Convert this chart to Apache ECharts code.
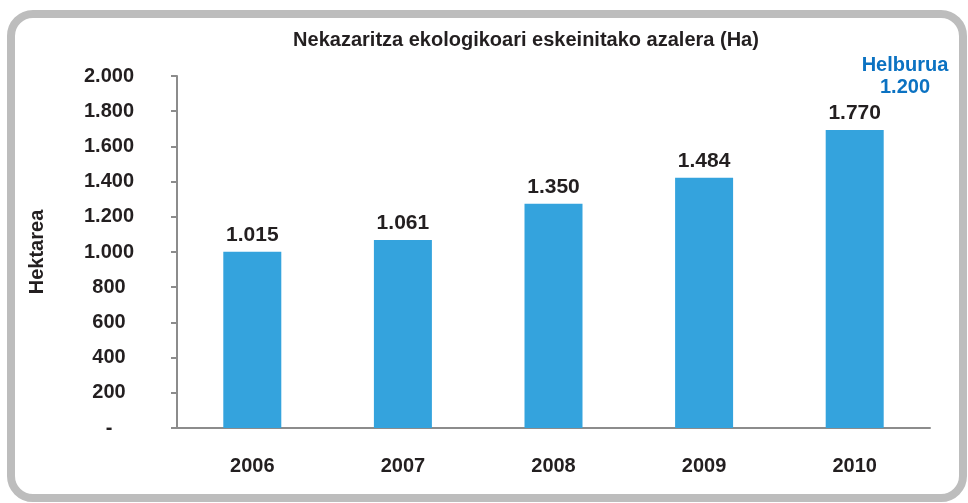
<!DOCTYPE html>
<html style="height: 100%">
<head>
<meta charset="utf-8">
<style>
    html, body {
        height: 100%;
        margin: 0;
        overflow: hidden;
        background: #fff;
    }
    #container {
        width: 968px;
        height: 503px;
    }
</style>
<title>Nekazaritza ekologikoari eskeinitako azalera</title>
</head>
<body>
<div id="container"></div>
<script src="https://cdn.jsdelivr.net/npm/echarts@6/dist/echarts.min.js"></script>
<script type="text/javascript">
// urteak
var years = ['2006', '2007', '2008', '2009', '2010'];
// barren altuera (irudian neurtua)
var barValues = [1002, 1068, 1274, 1422, 1693];
// barren gaineko etiketak
var barLabels = ['1.015', '1.061', '1.350', '1.484', '1.770'];
var targetText = ['Helburua', '1.200'];

var textColor = '#231f20';
var font = '"Liberation Sans", Arial, sans-serif';

var myChart = echarts.init(document.getElementById('container'));

var option = {
    animation: false,
    textStyle: { fontFamily: font },
    title: [{
        text: 'Nekazaritza ekologikoari eskeinitako azalera (Ha)',
        left: 521,
        top: 25,
        textAlign: 'center',
        textStyle: { fontFamily: font, fontSize: 20, fontWeight: 'bold', color: textColor }
    }, {
        text: targetText.join('\n'),
        left: 900,
        top: 49,
        textAlign: 'center',
        textStyle: { fontFamily: font, fontSize: 20, fontWeight: 'bold', color: '#0b72c2', lineHeight: 22 }
    }],
    graphic: [{
        type: 'rect',
        shape: { x: 11, y: 14, width: 952, height: 484, r: 22 },
        style: { fill: 'none', stroke: '#bdbdbd', lineWidth: 8 },
        z: -1
    }],
    grid: { left: 177, right: 38, top: 76, bottom: 75 },
    xAxis: {
        type: 'category',
        data: years,
        axisLine: { lineStyle: { color: '#8c8c8c', width: 2 } },
        axisTick: { length: 8, lineStyle: { color: '#8c8c8c', width: 2 } },
        axisLabel: { margin: 28, fontFamily: font, fontSize: 20, fontWeight: 'bold', color: textColor }
    },
    yAxis: {
        type: 'value',
        name: 'Hektarea',
        nameLocation: 'middle',
        nameGap: 130,
        nameTextStyle: { fontFamily: font, fontSize: 20, fontWeight: 'bold', color: textColor },
        min: 0,
        max: 2000,
        interval: 200,
        splitLine: { show: false },
        axisLine: { show: true, lineStyle: { color: '#8c8c8c', width: 2 } },
        axisTick: { show: true, length: 6, lineStyle: { color: '#8c8c8c', width: 2 } },
        axisLabel: {
            margin: 68,
            align: 'center',
            fontFamily: font,
            fontSize: 20,
            fontWeight: 'bold',
            color: textColor,
            formatter: function (v) {
                if (v === 0) return '-';
                return String(v).replace(/(\d)(?=(\d{3})+$)/g, '$1.');
            }
        }
    },
    series: [{
        type: 'bar',
        data: barValues,
        barWidth: 58,
        itemStyle: { color: '#34a3dd' },
        label: {
            show: true,
            position: 'top',
            distance: 6,
            fontFamily: font,
            fontSize: 21,
            fontWeight: 'bold',
            color: textColor,
            formatter: function (p) { return barLabels[p.dataIndex]; }
        }
    }]
};

myChart.setOption(option);
</script>
</body>
</html>
